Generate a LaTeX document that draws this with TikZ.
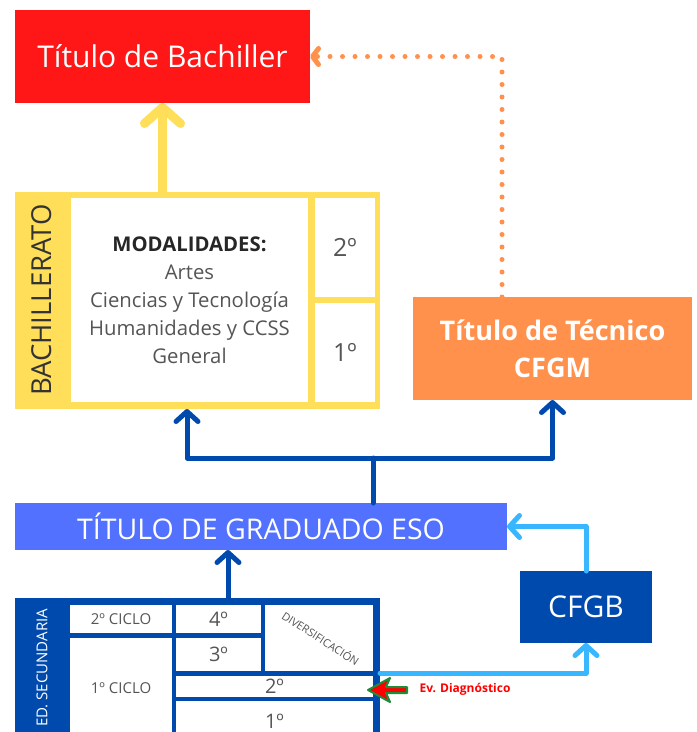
\documentclass[tikz,border=0pt]{standalone}
\usepackage{fontspec}
\setmainfont{Open Sans}
\usetikzlibrary{arrows.meta}
\definecolor{rojotitulo}{HTML}{FF1616}
\definecolor{amarillobach}{HTML}{FFDE59}
\definecolor{naranjatec}{HTML}{FF914D}
\definecolor{azuleso}{HTML}{5271FF}
\definecolor{azuloscuro}{HTML}{004AAD}
\definecolor{celeste}{HTML}{38B6FF}
\definecolor{gristexto}{HTML}{555555}
\definecolor{verdeborde}{HTML}{1E8C3A}

\begin{document}
\begin{tikzpicture}[x=1pt,y=-1pt,
  caja/.style={inner sep=0pt,outer sep=0pt,anchor=north west,align=center},
  celda/.style={caja,fill=white,text=gristexto},
  flechaazul/.style={azuloscuro,line width=5pt,line cap=round,line join=round,-{Straight Barb[round,length=10pt,width=22pt]}},
  flechaceleste/.style={celeste,line width=5pt,line cap=round,line join=round,-{Straight Barb[round,length=10pt,width=22pt]}},
  flechaamarilla/.style={amarillobach,line width=9pt,line cap=round,-{Straight Barb[round,length=16pt,width=36pt]}},
  punteado/.style={naranjatec,line width=5pt,line cap=round,dash pattern=on 0pt off 12.5pt,-{Straight Barb[round,length=6pt,width=16pt]}}]
			\clip (0,0) rectangle (697,732);
			\fill[white] (0,0) rectangle (697,732);
			% titulos
			\node[caja,fill=rojotitulo,text=white,minimum width=295pt,minimum height=93pt,font=\fontsize{30}{34}\selectfont] (bachiller) at (15,10) {Título de Bachiller};
			\node[caja,fill=naranjatec,text=white,minimum width=279pt,minimum height=103pt,font=\fontsize{27}{37}\selectfont\bfseries] (tecnico) at (413,297) {Título de Técnico\\CFGM};
			\node[caja,fill=azuleso,text=white,minimum width=492pt,minimum height=47pt,font=\fontsize{28.5}{32}\selectfont] (eso) at (15,503) {TÍTULO DE GRADUADO ESO};
			\node[caja,fill=azuloscuro,text=white,minimum width=132pt,minimum height=72pt,font=\fontsize{30}{34}\selectfont] (cfgb) at (520,571) {CFGB};
			% bachillerato
			\node[caja,fill=amarillobach,minimum width=365pt,minimum height=217pt] (bach) at (15,192) {};
			\node[rotate=90,text=black!80,font=\fontsize{27.5}{30}\selectfont] (bachlabel) at (42,300) {BACHILLERATO};
			\node[celda,minimum width=237pt,minimum height=204pt,font=\fontsize{20.3}{28}\selectfont] (modal) at (71,198) {{\bfseries\color{black!85}MODALIDADES:}\\Artes\\Ciencias y Tecnología\\Humanidades y CCSS\\General};
			\node[celda,minimum width=60pt,minimum height=99pt,font=\fontsize{25}{28}\selectfont] (bsegundo) at (315,198) {2º};
			\node[celda,minimum width=60pt,minimum height=99pt,font=\fontsize{25}{28}\selectfont] (bprimero) at (315,303) {1º};
			% secundaria
			\node[caja,fill=azuloscuro,minimum width=365pt,minimum height=140pt] (sec) at (15,598) {};
			\node[rotate=90,text=white,font=\fontsize{15}{17}\selectfont] (seclabel) at (42,668) {ED. SECUNDARIA};
			\node[celda,minimum width=102pt,minimum height=28pt,font=\fontsize{15}{17}\selectfont] (ciclodos) at (70,605) {2º CICLO};
			\node[celda,minimum width=102pt,minimum height=100pt,font=\fontsize{15}{17}\selectfont] (ciclouno) at (70,638) {1º CICLO};
			\node[celda,minimum width=85pt,minimum height=28pt,font=\fontsize{20}{22}\selectfont] (cuarto) at (176,605) {4º};
			\node[celda,minimum width=85pt,minimum height=33pt,font=\fontsize{20}{22}\selectfont] (tercero) at (176,638) {3º};
			\node[celda,minimum width=108pt,minimum height=66pt] (diver) at (265,605) {};
			\node[rotate=-33,text=gristexto,font=\fontsize{11}{12}\selectfont] (diverlabel) at ([xshift=2pt]diver.center) {DIVERSIFICACIÓN};
			\node[celda,minimum width=197pt,minimum height=21pt,font=\fontsize{20}{22}\selectfont] (segundo) at (176,676) {2º};
			\node[celda,minimum width=197pt,minimum height=40pt,font=\fontsize{20}{22}\selectfont] (primero) at (176,701) {1º};
			% evaluacion
			\coordinate (evpunta) at (368,690);
			\filldraw[fill=red,draw=verdeborde,line width=2pt,line join=round] (evpunta) -- ++(22,-12) -- ++(-4,9) -- ++(21,0) -- ++(0,6) -- ++(-21,0) -- ++(4,9) -- cycle;
			\node[anchor=west,text=red,font=\fontsize{12}{14}\selectfont\bfseries] (evtexto) at (416,689) {Ev. Diagnóstico};
			% conexiones
			\coordinate (rama) at (373,458);
			\coordinate (salida) at (380,673);
			\draw[flechaamarilla] (bachiller.south |- bach.north) -- (bachiller.south);
			\draw[punteado] (tecnico.north -| 502,0) |- (bachiller.east);
			\draw[azuloscuro,line width=5pt,line cap=round] (eso.north -| rama) -- (rama);
			\draw[flechaazul] (rama) -| (bach.south -| 187,0);
			\draw[flechaazul] (rama) -| (tecnico.south);
			\draw[flechaazul] (sec.north -| 228,0) -- (eso.south -| 228,0);
			\draw[flechaceleste] (salida) -| (cfgb.south);
			\draw[flechaceleste] (cfgb.north) |- (eso.east);
		\end{tikzpicture}
\end{document}
